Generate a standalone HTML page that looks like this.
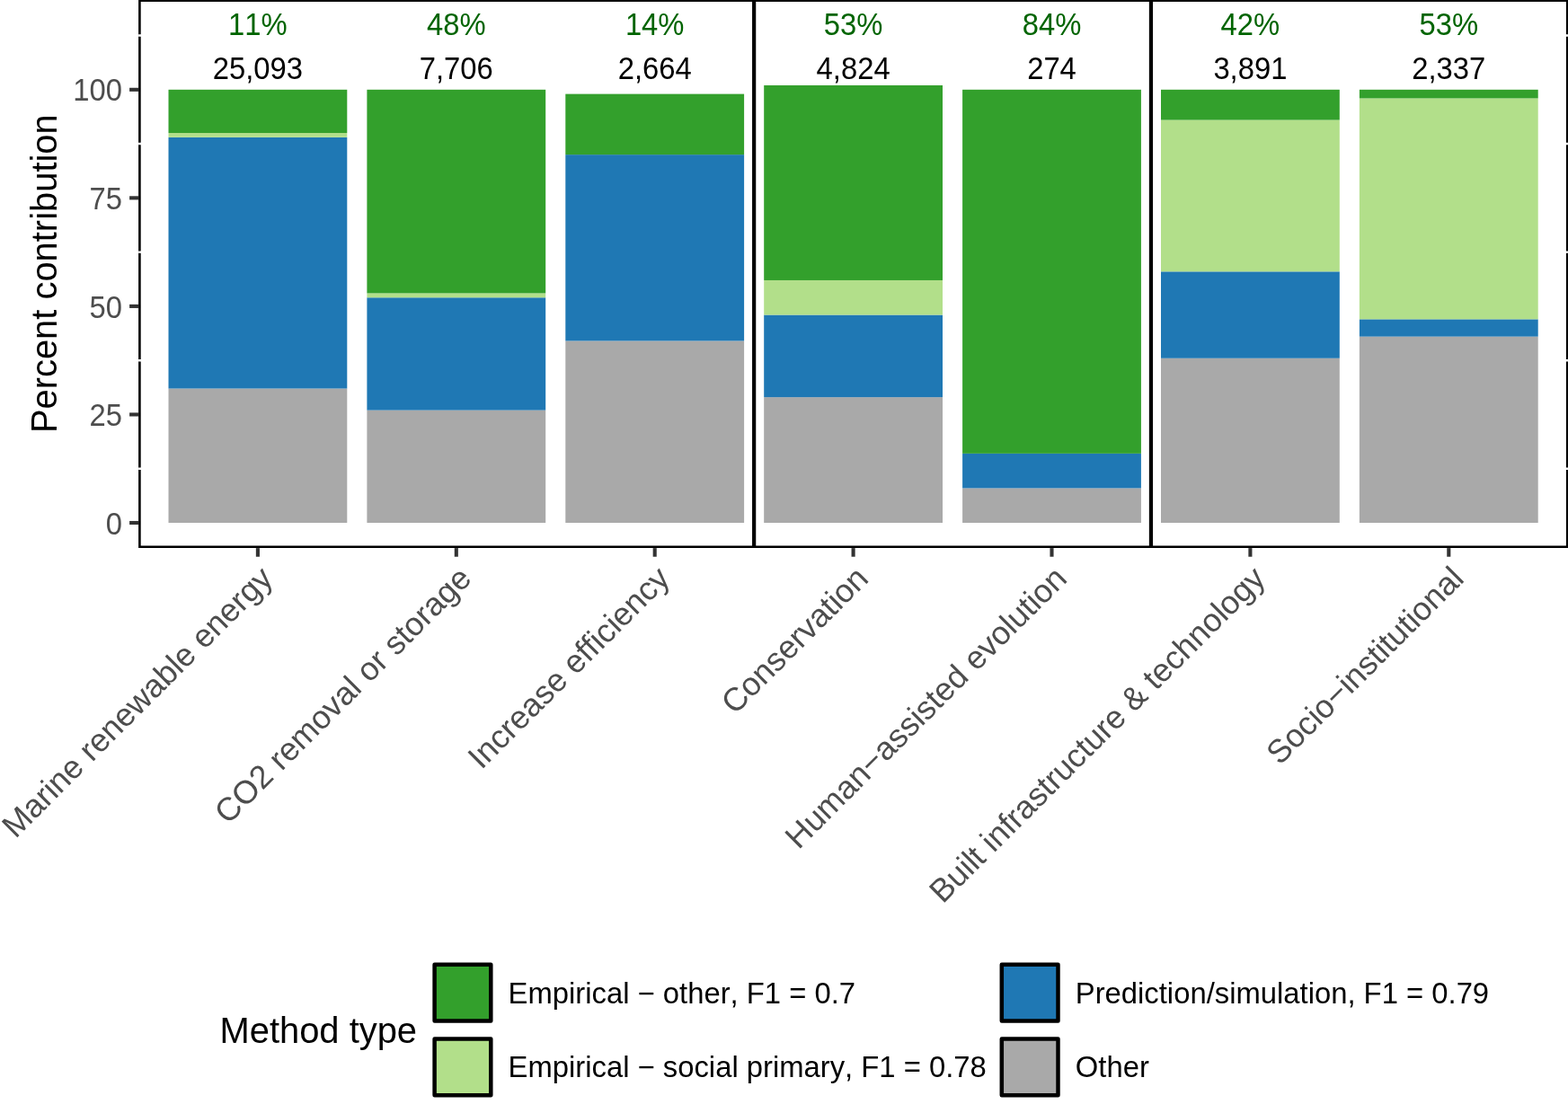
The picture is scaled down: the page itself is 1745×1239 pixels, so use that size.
<!DOCTYPE html><html><head><meta charset="utf-8"><title>Method type contribution</title><style>html,body{margin:0;padding:0;background:#fff;overflow:hidden;}svg{display:block;}text{font-family:"Liberation Sans",Arial,sans-serif;font-kerning:none;}</style></head><body>
<svg width="1745" height="1239" viewBox="0 0 1745 1239">
<rect x="0" y="0" width="1745" height="1239" fill="#fff"/>
<defs><clipPath id="pc"><rect x="154.1" y="-0.66" width="1591.40" height="610.76"/></clipPath></defs>
<rect x="154.1" y="-0.66" width="1591.40" height="610.76" fill="none" stroke="#000" stroke-width="5.2" clip-path="url(#pc)"/>
<line x1="154.1" x2="1745.5" y1="521.73" y2="521.73" stroke="#fff" stroke-width="2.4"/>
<line x1="154.1" x2="1745.5" y1="401.18" y2="401.18" stroke="#fff" stroke-width="2.4"/>
<line x1="154.1" x2="1745.5" y1="280.62" y2="280.62" stroke="#fff" stroke-width="2.4"/>
<line x1="154.1" x2="1745.5" y1="160.07" y2="160.07" stroke="#fff" stroke-width="2.4"/>
<line x1="154.1" x2="1745.5" y1="39.52" y2="39.52" stroke="#fff" stroke-width="2.4"/>
<rect x="187.50" y="432.52" width="198.8" height="149.48" fill="#A9A9A9"/>
<rect x="187.50" y="152.84" width="198.8" height="279.68" fill="#1F78B4"/>
<rect x="187.50" y="148.02" width="198.8" height="4.82" fill="#B2DF8A"/>
<rect x="187.50" y="99.80" width="198.8" height="48.22" fill="#33A02C"/>
<rect x="408.40" y="456.63" width="198.8" height="125.37" fill="#A9A9A9"/>
<rect x="408.40" y="331.26" width="198.8" height="125.37" fill="#1F78B4"/>
<rect x="408.40" y="326.43" width="198.8" height="4.82" fill="#B2DF8A"/>
<rect x="408.40" y="99.80" width="198.8" height="226.63" fill="#33A02C"/>
<rect x="629.30" y="379.48" width="198.8" height="202.52" fill="#A9A9A9"/>
<rect x="629.30" y="172.13" width="198.8" height="207.35" fill="#1F78B4"/>
<rect x="629.30" y="104.62" width="198.8" height="67.51" fill="#33A02C"/>
<rect x="850.20" y="442.16" width="198.8" height="139.84" fill="#A9A9A9"/>
<rect x="850.20" y="350.54" width="198.8" height="91.62" fill="#1F78B4"/>
<rect x="850.20" y="311.97" width="198.8" height="38.58" fill="#B2DF8A"/>
<rect x="850.20" y="94.98" width="198.8" height="216.99" fill="#33A02C"/>
<rect x="1071.10" y="543.42" width="198.8" height="38.58" fill="#A9A9A9"/>
<rect x="1071.10" y="504.85" width="198.8" height="38.58" fill="#1F78B4"/>
<rect x="1071.10" y="99.80" width="198.8" height="405.05" fill="#33A02C"/>
<rect x="1292.00" y="398.76" width="198.8" height="183.24" fill="#A9A9A9"/>
<rect x="1292.00" y="302.32" width="198.8" height="96.44" fill="#1F78B4"/>
<rect x="1292.00" y="133.55" width="198.8" height="168.77" fill="#B2DF8A"/>
<rect x="1292.00" y="99.80" width="198.8" height="33.75" fill="#33A02C"/>
<rect x="1512.90" y="374.65" width="198.8" height="207.35" fill="#A9A9A9"/>
<rect x="1512.90" y="355.37" width="198.8" height="19.29" fill="#1F78B4"/>
<rect x="1512.90" y="109.44" width="198.8" height="245.92" fill="#B2DF8A"/>
<rect x="1512.90" y="99.80" width="198.8" height="9.64" fill="#33A02C"/>
<line x1="839.15" x2="839.15" y1="-0.66" y2="610.1" stroke="#000" stroke-width="4.2"/>
<line x1="1280.95" x2="1280.95" y1="-0.66" y2="610.1" stroke="#000" stroke-width="4.2"/>
<text transform="translate(286.90 39.1) scale(1 1.045)" text-anchor="middle" font-size="32.8" fill="#006400">11%</text>
<text transform="translate(286.90 87.6) scale(1 1.045)" text-anchor="middle" font-size="32.8" fill="#000">25,093</text>
<text transform="translate(507.80 39.1) scale(1 1.045)" text-anchor="middle" font-size="32.8" fill="#006400">48%</text>
<text transform="translate(507.80 87.6) scale(1 1.045)" text-anchor="middle" font-size="32.8" fill="#000">7,706</text>
<text transform="translate(728.70 39.1) scale(1 1.045)" text-anchor="middle" font-size="32.8" fill="#006400">14%</text>
<text transform="translate(728.70 87.6) scale(1 1.045)" text-anchor="middle" font-size="32.8" fill="#000">2,664</text>
<text transform="translate(949.60 39.1) scale(1 1.045)" text-anchor="middle" font-size="32.8" fill="#006400">53%</text>
<text transform="translate(949.60 87.6) scale(1 1.045)" text-anchor="middle" font-size="32.8" fill="#000">4,824</text>
<text transform="translate(1170.50 39.1) scale(1 1.045)" text-anchor="middle" font-size="32.8" fill="#006400">84%</text>
<text transform="translate(1170.50 87.6) scale(1 1.045)" text-anchor="middle" font-size="32.8" fill="#000">274</text>
<text transform="translate(1391.40 39.1) scale(1 1.045)" text-anchor="middle" font-size="32.8" fill="#006400">42%</text>
<text transform="translate(1391.40 87.6) scale(1 1.045)" text-anchor="middle" font-size="32.8" fill="#000">3,891</text>
<text transform="translate(1612.30 39.1) scale(1 1.045)" text-anchor="middle" font-size="32.8" fill="#006400">53%</text>
<text transform="translate(1612.30 87.6) scale(1 1.045)" text-anchor="middle" font-size="32.8" fill="#000">2,337</text>
<line x1="144.1" x2="154.1" y1="582.00" y2="582.00" stroke="#333" stroke-width="4.1"/>
<text transform="translate(136.0 594.60) scale(1 1.045)" text-anchor="end" font-size="32.8" fill="#4D4D4D">0</text>
<line x1="144.1" x2="154.1" y1="461.45" y2="461.45" stroke="#333" stroke-width="4.1"/>
<text transform="translate(136.0 474.05) scale(1 1.045)" text-anchor="end" font-size="32.8" fill="#4D4D4D">25</text>
<line x1="144.1" x2="154.1" y1="340.90" y2="340.90" stroke="#333" stroke-width="4.1"/>
<text transform="translate(136.0 353.50) scale(1 1.045)" text-anchor="end" font-size="32.8" fill="#4D4D4D">50</text>
<line x1="144.1" x2="154.1" y1="220.35" y2="220.35" stroke="#333" stroke-width="4.1"/>
<text transform="translate(136.0 232.95) scale(1 1.045)" text-anchor="end" font-size="32.8" fill="#4D4D4D">75</text>
<line x1="144.1" x2="154.1" y1="99.80" y2="99.80" stroke="#333" stroke-width="4.1"/>
<text transform="translate(136.0 112.40) scale(1 1.045)" text-anchor="end" font-size="32.8" fill="#4D4D4D">100</text>
<line x1="286.90" x2="286.90" y1="610.1" y2="619.75" stroke="#333" stroke-width="4.1"/>
<text x="305.55" y="645.95" text-anchor="end" font-size="36.15" fill="#4D4D4D" transform="rotate(-45 305.55 645.95)">Marine renewable energy</text>
<line x1="507.80" x2="507.80" y1="610.1" y2="619.75" stroke="#333" stroke-width="4.1"/>
<text x="526.45" y="645.95" text-anchor="end" font-size="36.15" fill="#4D4D4D" transform="rotate(-45 526.45 645.95)">CO2 removal or storage</text>
<line x1="728.70" x2="728.70" y1="610.1" y2="619.75" stroke="#333" stroke-width="4.1"/>
<text x="747.35" y="645.95" text-anchor="end" font-size="36.15" fill="#4D4D4D" transform="rotate(-45 747.35 645.95)">Increase efficiency</text>
<line x1="949.60" x2="949.60" y1="610.1" y2="619.75" stroke="#333" stroke-width="4.1"/>
<text x="968.25" y="645.95" text-anchor="end" font-size="36.15" fill="#4D4D4D" transform="rotate(-45 968.25 645.95)">Conservation</text>
<line x1="1170.50" x2="1170.50" y1="610.1" y2="619.75" stroke="#333" stroke-width="4.1"/>
<text x="1189.15" y="645.95" text-anchor="end" font-size="36.15" fill="#4D4D4D" transform="rotate(-45 1189.15 645.95)">Human−assisted evolution</text>
<line x1="1391.40" x2="1391.40" y1="610.1" y2="619.75" stroke="#333" stroke-width="4.1"/>
<text x="1410.05" y="645.95" text-anchor="end" font-size="36.15" fill="#4D4D4D" transform="rotate(-45 1410.05 645.95)">Built infrastructure &amp; technology</text>
<line x1="1612.30" x2="1612.30" y1="610.1" y2="619.75" stroke="#333" stroke-width="4.1"/>
<text x="1630.95" y="645.95" text-anchor="end" font-size="36.15" fill="#4D4D4D" transform="rotate(-45 1630.95 645.95)">Socio−institutional</text>
<text x="63.5" y="304.7" text-anchor="middle" font-size="39.9" fill="#000" transform="rotate(-90 63.5 304.7)">Percent contribution</text>
<text x="244.5" y="1160.9" font-size="39.9" fill="#000">Method type</text>
<rect x="483.6" y="1073.7" width="62.7" height="62.7" fill="#33A02C" stroke="#000" stroke-width="4.5" stroke-linejoin="round"/>
<text x="565.60" y="1116.80" font-size="32.8" fill="#000">Empirical − other, F1 = 0.7</text>
<rect x="483.6" y="1156.5" width="62.7" height="62.7" fill="#B2DF8A" stroke="#000" stroke-width="4.5" stroke-linejoin="round"/>
<text x="565.60" y="1198.90" font-size="32.8" fill="#000">Empirical − social primary, F1 = 0.78</text>
<rect x="1114.8" y="1073.7" width="62.7" height="62.7" fill="#1F78B4" stroke="#000" stroke-width="4.5" stroke-linejoin="round"/>
<text x="1196.80" y="1116.80" font-size="32.8" fill="#000">Prediction/simulation, F1 = 0.79</text>
<rect x="1114.8" y="1156.5" width="62.7" height="62.7" fill="#A9A9A9" stroke="#000" stroke-width="4.5" stroke-linejoin="round"/>
<text x="1196.80" y="1198.90" font-size="32.8" fill="#000">Other</text>
</svg></body></html>
